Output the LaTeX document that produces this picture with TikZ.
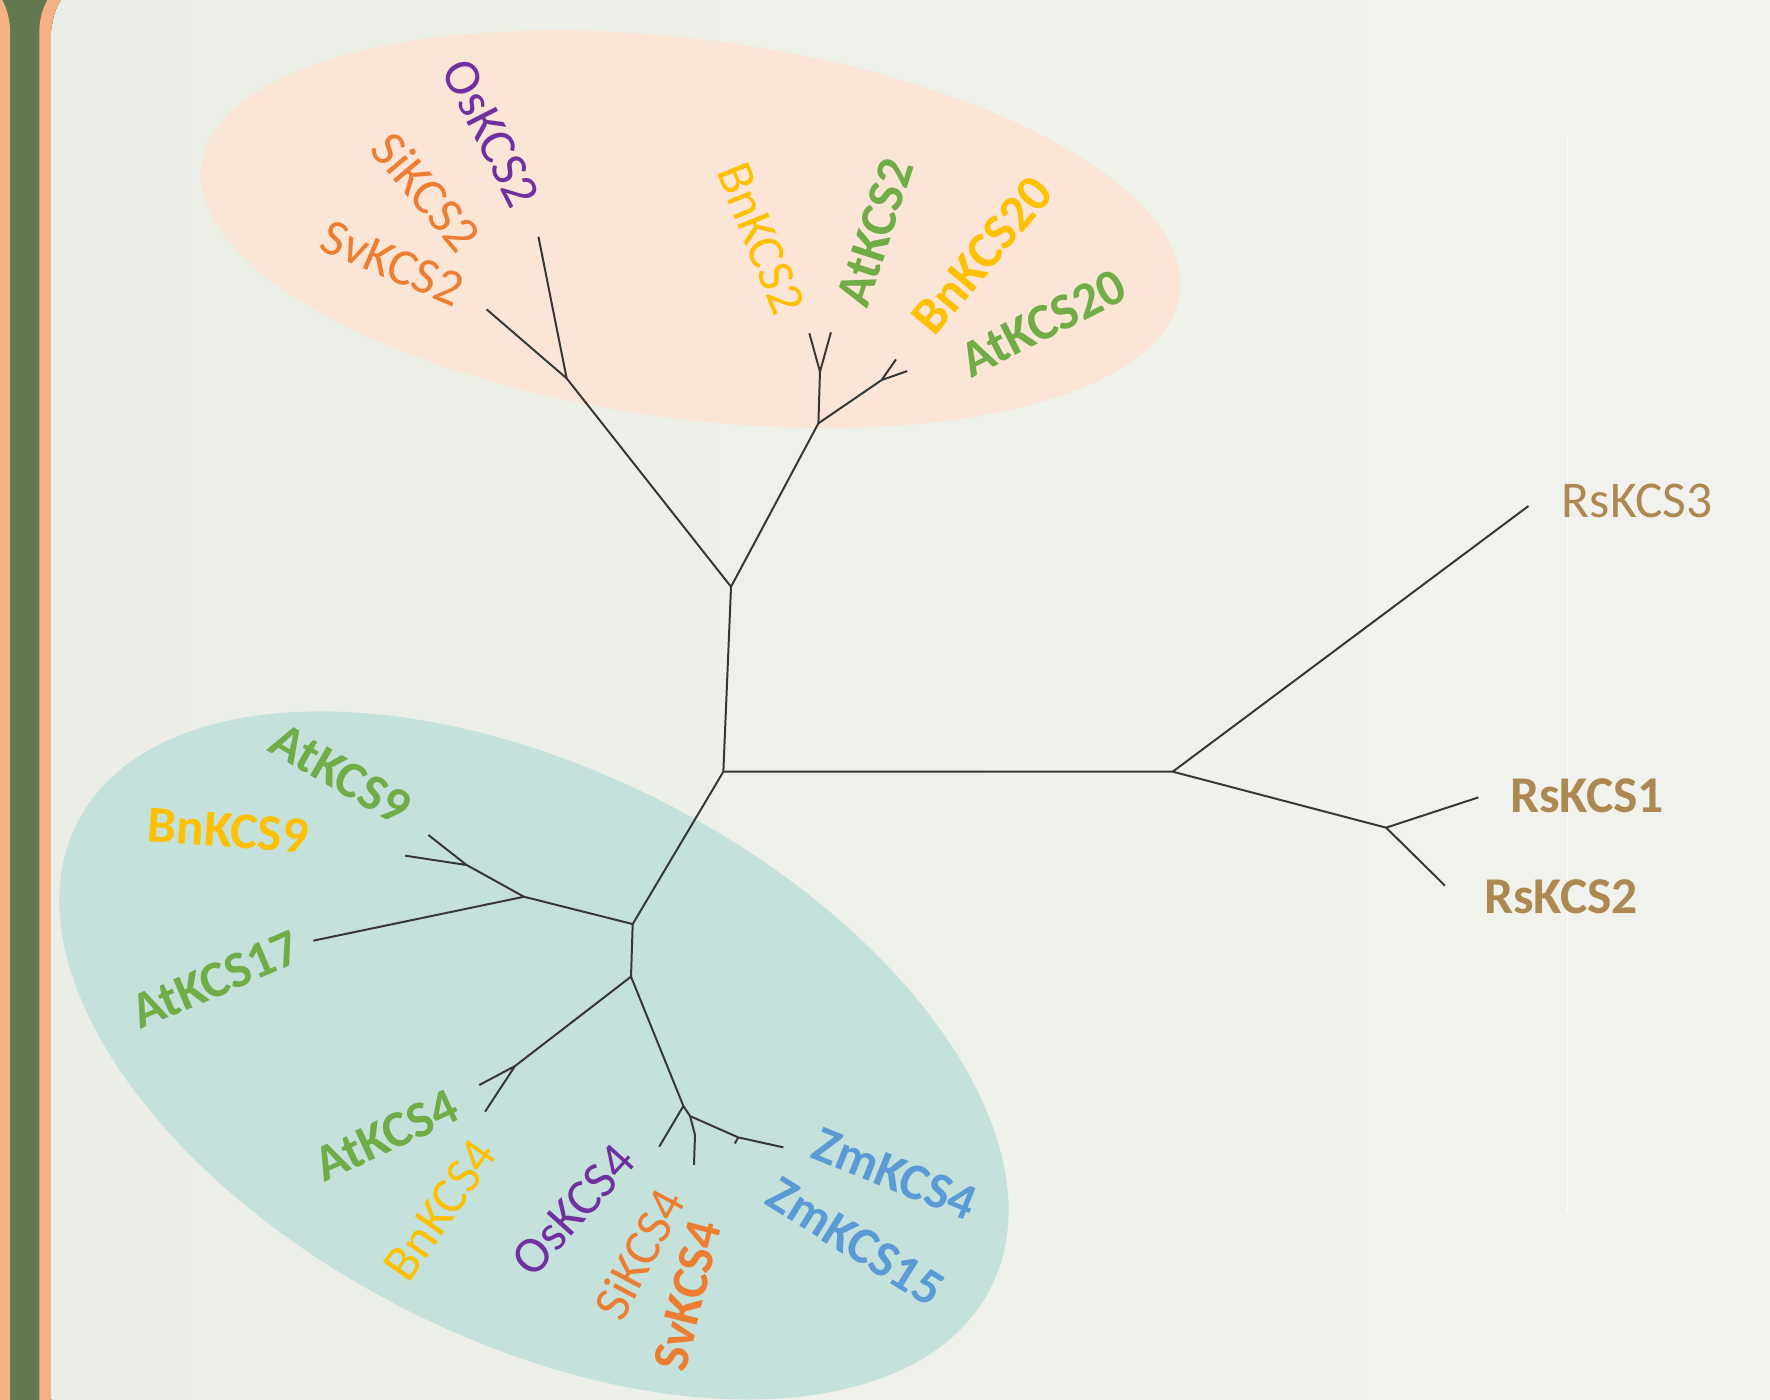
\documentclass[tikz,border=0pt]{standalone}
\usepackage{fontspec}
\setmainfont{Carlito}
\definecolor{barGreen}{RGB}{100,120,80}
\definecolor{panelOrange}{RGB}{244,177,131}
\definecolor{bgLeft}{RGB}{235,238,231}
\definecolor{bgRight}{RGB}{242,243,238}
\definecolor{upperFill}{RGB}{251,229,214}
\definecolor{lowerFill}{RGB}{197,225,220}
\definecolor{treeGray}{RGB}{55,55,55}
\definecolor{clrAt}{RGB}{112,173,71}
\definecolor{clrBn}{RGB}{255,192,0}
\definecolor{clrOs}{RGB}{112,48,160}
\definecolor{clrSi}{RGB}{237,125,49}
\definecolor{clrZm}{RGB}{91,155,213}
\definecolor{clrRs}{RGB}{173,136,80}
\begin{document}
\begin{tikzpicture}[
        x=0.1mm, y=-0.1mm, % 1 единица = 1 пиксель, ось y вниз
        branch/.style={draw=treeGray, line width=0.5pt}, % ветви дерева
        leaf/.style={inner sep=0pt, font=\fontsize{13}{15}\selectfont}, % подписи
        bleaf/.style={inner sep=0pt, font=\fontsize{13}{15}\selectfont\bfseries}, % жирные подписи
    ]

    % фон слайда
    \useasboundingbox (0,0) rectangle (1568,1240);
    \clip (0,0) rectangle (1568,1240);
    \fill[barGreen] (0,0) rectangle (60,1240);
    \fill[panelOrange, rounded corners=6mm] (-100,-32) rectangle (8.9,1300);
    \fill[panelOrange, rounded corners=6mm] (34.9,-32) rectangle (1700,1300);
    \fill[left color=bgLeft, right color=bgRight, rounded corners=5.1mm] (45.8,-23) rectangle (1700,1300);
    \draw[white!75!bgRight, line width=0.15mm] (1388.5,120) -- (1388.5,1073);

    % группы
    \fill[upperFill, shift={(612,203)}, rotate=-7.5] (0,0) ellipse [x radius=43.7mm, y radius=16.8mm];
    \fill[lowerFill, shift={(473,935)}, rotate=-27] (0,0) ellipse [x radius=45.4mm, y radius=25.2mm];

    % узлы дерева
    \coordinate (r0) at (640.8,683.6);
    \coordinate (r1) at (1038.9,683.6);
    \coordinate (r2) at (1227.9,733.2);
    \coordinate (u1) at (647.6,519.8);
    \coordinate (u2) at (502,335.2);
    \coordinate (u3) at (725,375);
    \coordinate (u4) at (726.4,329.3);
    \coordinate (u5) at (781,336.7);
    \coordinate (l1) at (560.5,818.6);
    \coordinate (l2) at (464.2,794.4);
    \coordinate (l2a) at (413.4,766.3);
    \coordinate (l3) at (559,865.2);
    \coordinate (l4) at (456.2,944.4);
    \coordinate (l5) at (605.4,979.8);
    \coordinate (l6) at (611.3,988.7);
    \coordinate (l7) at (615.7,1005.5);
    \coordinate (l8) at (654,1007.6);

    % концы ветвей
    \coordinate (tRs3) at (1354,448.3);
    \coordinate (tRs1) at (1309.6,706.4);
    \coordinate (tRs2) at (1280.1,784.6);
    \coordinate (tOs2) at (477,209.7);
    \coordinate (tSv2) at (431,274);
    \coordinate (tBn2) at (717,295.3);
    \coordinate (tAt2) at (736.1,294.4);
    \coordinate (tBn20) at (793.7,318.4);
    \coordinate (tAt20) at (803.7,328.7);
    \coordinate (tAt9) at (379.5,739.7);
    \coordinate (tBn9) at (358.8,758);
    \coordinate (tAt17) at (277.6,833.3);
    \coordinate (tAt4) at (424.6,961.2);
    \coordinate (tBn4) at (429.7,984.8);
    \coordinate (tOs4) at (584,1015.8);
    \coordinate (tSv4) at (614.8,1032);
    \coordinate (tZm) at (694,1016.4);
    \coordinate (tZm2) at (651,1013);

    \draw[branch] (r0) -- (r1) (r1) -- (tRs3) (r1) -- (r2) -- (tRs1) (r2) -- (tRs2);
    \draw[branch] (r0) -- (u1) -- (u2) -- (tOs2) (u2) -- (tSv2);
    \draw[branch] (u1) -- (u3) -- (u4) -- (tBn2) (u4) -- (tAt2);
    \draw[branch] (u3) -- (u5) -- (tBn20) (u5) -- (tAt20);
    \draw[branch] (r0) -- (l1) -- (l2) -- (l2a) -- (tAt9) (l2a) -- (tBn9) (l2) -- (tAt17);
    \draw[branch] (l1) -- (l3) -- (l4) -- (tAt4) (l4) -- (tBn4);
    \draw[branch] (l3) -- (l5) -- (tOs4) (l5) -- (l6) -- (l7) -- (tSv4) (l6) -- (l8) -- (tZm) (l8) -- (tZm2);

    % подписи
    \node[leaf, text=clrOs, rotate=-63] (os2) at (435,118) {OsKCS2};
    \node[leaf, text=clrSi, rotate=-50] (si2) at (378,170) {SiKCS2};
    \node[leaf, text=clrSi, rotate=-23] (sv2) at (348,233) {SvKCS2};
    \node[leaf, text=clrBn, rotate=-68] (bn2) at (674,211) {BnKCS2};
    \node[bleaf, text=clrAt, rotate=72] (at2) at (775,206) {AtKCS2};
    \node[bleaf, text=clrBn, rotate=50] (bn20) at (870,226) {BnKCS20};
    \node[bleaf, text=clrAt, rotate=27] (at20) at (924,286) {AtKCS20};
    \node[leaf, text=clrRs, anchor=base west] (rs3) at (1383,458) {RsKCS3};
    \node[bleaf, text=clrRs, anchor=base west] (rs1) at (1337,720) {RsKCS1};
    \node[bleaf, text=clrRs, anchor=base west] (rs2) at (1314,809) {RsKCS2};
    \node[bleaf, text=clrAt, rotate=-30] (at9) at (302,686) {AtKCS9};
    \node[bleaf, text=clrBn, rotate=-4] (bn9) at (202,736) {BnKCS9};
    \node[bleaf, text=clrAt, rotate=23] (at17) at (191,868) {AtKCS17};
    \node[bleaf, text=clrAt, rotate=25] (at4) at (342,1006) {AtKCS4};
    \node[leaf, text=clrBn, rotate=55] (bn4) at (390,1072) {BnKCS4};
    \node[leaf, text=clrOs, rotate=48] (os4) at (508,1072) {OsKCS4};
    \node[leaf, text=clrSi, rotate=62] (si4) at (566,1111) {SiKCS4};
    \node[bleaf, text=clrSi, rotate=76] (sv4) at (609,1148) {SvKCS4};
    \node[bleaf, text=clrZm, rotate=-22] (zm4) at (793,1040) {ZmKCS4};
    \node[bleaf, text=clrZm, rotate=-32] (zm15) at (758,1100) {ZmKCS15};
\end{tikzpicture}
\end{document}
